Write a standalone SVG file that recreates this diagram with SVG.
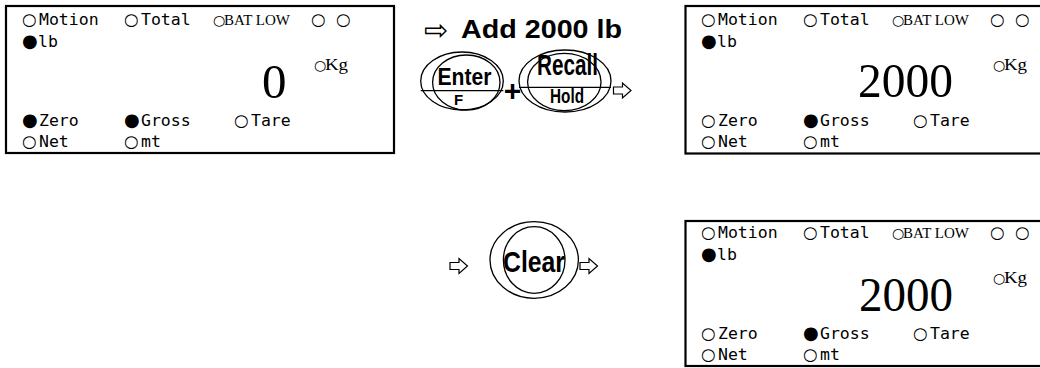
<svg xmlns="http://www.w3.org/2000/svg" width="1040" height="368" viewBox="0 0 1040 368">
<defs>
<style>
.box{fill:#fff;stroke:#000;stroke-width:2.2}
.lbl{font-family:"DejaVu Sans Mono","Liberation Mono",monospace;font-size:16.5px;fill:#000}
.ind{font-family:"DejaVu Sans","Noto Sans",sans-serif;font-size:16.5px}
.dot{font-family:"DejaVu Sans","Noto Sans",sans-serif;font-size:18px}
.ser{font-family:"Liberation Serif",serif;font-size:15px;fill:#000}
.big{font-family:"Liberation Serif",serif;font-size:49px;fill:#000}
.btn{font-family:"Liberation Sans Narrow","Liberation Sans",sans-serif;font-weight:bold;fill:#000}
.ring{fill:none;stroke:#000;stroke-width:1.3}
.arr{fill:#fff;stroke:#000;stroke-width:1.2;stroke-linejoin:miter}
</style>
<g id="panel">
<text class="lbl" y="25"><tspan class="ind" x="22">○</tspan><tspan x="39">Motion</tspan><tspan class="ind" x="124">○</tspan><tspan x="141">Total</tspan></text>
<text class="ser" y="25"><tspan class="ind" x="213" style="font-size:14px">○</tspan><tspan x="224" textLength="66" lengthAdjust="spacingAndGlyphs">BAT LOW</tspan><tspan class="ind" x="311">○</tspan><tspan class="ind" x="336">○</tspan></text>
<text class="lbl" y="47"><tspan class="dot" x="22">●</tspan><tspan x="38">lb</tspan></text>
<text class="ser" y="70"><tspan class="ind" x="314" style="font-size:14px">○</tspan><tspan x="325" font-size="16" textLength="23" lengthAdjust="spacingAndGlyphs">Kg</tspan></text>
<text class="lbl" y="147"><tspan class="ind" x="22">○</tspan><tspan x="39">Net</tspan><tspan class="ind" x="124">○</tspan><tspan x="141">mt</tspan></text>
<text class="lbl" y="126"><tspan class="ind" x="234">○</tspan><tspan x="251">Tare</tspan></text>
</g>
<path id="arrow" class="arr" d="M0,-3.5 H9 V-7.5 L17.5,0 L9,7.5 V3.5 H0 Z"/>
</defs>

<g id="display1">
<rect class="box" x="6" y="6" width="388" height="147"/>
<use href="#panel"/>
<text class="lbl" y="126"><tspan class="dot" x="22">●</tspan><tspan x="39">Zero</tspan><tspan class="dot" x="124">●</tspan><tspan x="141">Gross</tspan></text>
<text class="big" x="262" y="98">0</text>
</g>

<g id="title">
<text class="btn" y="38" font-size="25"><tspan style="font-family:'DejaVu Sans',sans-serif;font-weight:normal" x="424" y="40" font-size="29">⇨</tspan><tspan x="461" y="38" textLength="161" lengthAdjust="spacingAndGlyphs">Add 2000 lb</tspan></text>
</g>

<g id="btn-enter">
<ellipse class="ring" cx="462" cy="81" rx="41.3" ry="29"/>
<ellipse class="ring" cx="466.3" cy="82.5" rx="33.7" ry="27.5"/>
<line class="ring" x1="420.7" y1="90.7" x2="503.3" y2="90.7"/>
<text class="btn" x="437.5" y="85" font-size="24" textLength="54" lengthAdjust="spacingAndGlyphs">Enter</text>
<text class="btn" x="454" y="105" font-size="15">F</text>
</g>

<g id="plus">
<text class="btn" x="512.5" y="101" font-size="30" text-anchor="middle">+</text>
</g>

<g id="btn-recall">
<ellipse class="ring" cx="565" cy="81" rx="46" ry="31"/>
<ellipse class="ring" cx="564.3" cy="82" rx="36.7" ry="28.7"/>
<line class="ring" x1="519" y1="87.3" x2="611" y2="87.3"/>
<text class="btn" x="537" y="75" font-size="29" textLength="61" lengthAdjust="spacingAndGlyphs">Recall</text>
<text class="btn" x="550" y="103" font-size="20" textLength="34" lengthAdjust="spacingAndGlyphs">Hold</text>
</g>

<g id="display2">
<rect class="box" x="685.5" y="6" width="360" height="147.5"/>
<use href="#panel" x="679"/>
<text class="lbl" y="126"><tspan class="ind" x="701">○</tspan><tspan x="718">Zero</tspan><tspan class="dot" x="803">●</tspan><tspan x="820">Gross</tspan></text>
<text class="big" x="858" y="97" textLength="95" lengthAdjust="spacingAndGlyphs">2000</text>
</g>

<g id="btn-clear">
<ellipse class="ring" cx="534.2" cy="260" rx="44.2" ry="38.3"/>
<ellipse class="ring" cx="534.2" cy="260" rx="30.8" ry="33.3"/>
<text class="btn" x="503" y="272" font-size="30" textLength="62" lengthAdjust="spacingAndGlyphs">Clear</text>
</g>

<g id="display3">
<rect class="box" x="685.5" y="221" width="360" height="145"/>
<use href="#panel" x="679" y="213"/>
<text class="lbl" y="339"><tspan class="ind" x="701">○</tspan><tspan x="718">Zero</tspan><tspan class="dot" x="803">●</tspan><tspan x="820">Gross</tspan></text>
<text class="big" x="859" y="311" textLength="94" lengthAdjust="spacingAndGlyphs">2000</text>
</g>

<g id="connectors">
<use href="#arrow" x="613.5" y="90.5"/>
<use href="#arrow" x="450" y="266"/>
<use href="#arrow" x="580" y="266"/>
</g>
</svg>
